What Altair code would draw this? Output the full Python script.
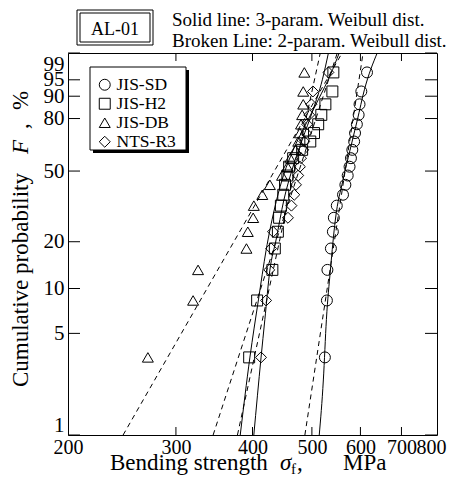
import altair as alt
import pandas as pd
import numpy as np

# ---------------- data ----------------
series_names = ["JIS-SD", "JIS-H2", "JIS-DB", "NTS-R3"]
shapes = ["circle", "square", "triangle-up", "diamond"]

# cumulative probability of each ranked specimen, %
F_pct = [3.43, 8.33, 13.24, 18.14, 23.04, 27.94, 32.84, 37.75, 42.65, 47.55,
         52.45, 57.35, 62.25, 67.16, 72.06, 76.96, 81.86, 86.76, 91.67, 96.57]

# bending strength, MPa
jis_sd = [525, 529, 530, 537, 541, 543, 549, 562, 567, 572,
          576, 579, 582, 586, 588, 592, 596, 598, 602, 615]
jis_h2 = [395, 407, 431, 435, 440, 442, 445, 449, 452, 456,
          459, 466, 482, 497, 504, 512, 518, 526, 540, 542]
jis_db = [270, 320, 326, 391, 393, 401, 402, 415, 427, 447,
          456, 461, 470, 475, 478, 480, 482, 484, 484, 486]
nts_r3 = [413, 421, 426, 429, 432, 457, 463, 468, 471, 475,
          478, 480, 484, 486, 489, 491, 495, 499, 502, 532]

# solid lines (3-param. Weibull): strength MPa / F %
sd_solid_s = [514, 522, 528, 536, 546, 562, 577, 593, 609, 639]
sd_solid_f = [1, 2.4, 6.2, 13.2, 27.1, 45.2, 62.1, 79.2, 92.2, 99]
h2_solid_s = [382, 396, 409, 421, 434, 447, 466, 488, 512, 536, 554]
h2_solid_f = [1, 3.4, 8.4, 17.7, 31.0, 45.2, 62.1, 76.6, 88.6, 96.1, 99]
r3_solid_s = [402, 413, 419, 427, 437, 450, 464, 482, 502, 520, 532]
r3_solid_f = [1, 3.4, 6.2, 13.2, 20.5, 35.3, 50.6, 68.0, 84.2, 95.0, 99]

# broken lines (2-param. Weibull): end points
sd_dash_s = [487, 606]
h2_dash_s = [345, 550]
db_dash_s = [246, 560]
r3_dash_s = [378, 516]
dash_f = [1, 99]

x_ticks = [200, 300, 400, 500, 600, 700, 800]
y_ticks = [1, 5, 10, 20, 50, 80, 90, 95, 99]

# ---------------- tables ----------------
def wb(f):
    f = np.asarray(f, dtype=float) / 100.0
    return np.log(-np.log(1.0 - f))

pts = pd.concat([
    pd.DataFrame({"s": v, "Y": wb(F_pct), "series": n})
    for n, v in zip(series_names, [jis_sd, jis_h2, jis_db, nts_r3])
], ignore_index=True)

solid = pd.concat([
    pd.DataFrame({"s": s, "Y": wb(f), "series": n, "o": range(len(s))})
    for n, s, f in [("JIS-SD", sd_solid_s, sd_solid_f),
                    ("JIS-H2", h2_solid_s, h2_solid_f),
                    ("NTS-R3", r3_solid_s, r3_solid_f)]
], ignore_index=True)

dashed = pd.concat([
    pd.DataFrame({"s": s, "Y": wb(dash_f), "series": n, "o": [0, 1]})
    for n, s in [("JIS-SD", sd_dash_s), ("JIS-H2", h2_dash_s),
                 ("JIS-DB", db_dash_s), ("NTS-R3", r3_dash_s)]
], ignore_index=True)

ytick_df = pd.DataFrame({"Y": wb(y_ticks)})
xtick_df = pd.DataFrame({"s": x_ticks[1:-1]})
one = pd.DataFrame({"a": [0]})

W, H = 369, 382
YMIN, YMAX = float(wb([1])[0]), float(wb([99])[0])
FONT = "Liberation Serif"

xscale = alt.Scale(type="log", domain=[200, 800], nice=False)
yscale = alt.Scale(domain=[YMIN, YMAX], nice=False, zero=False)

last_x = "datum.value == %d" % x_ticks[-1]
xaxis = alt.Axis(values=x_ticks, format="d", ticks=False, tickSize=0, domain=False,
                 grid=False, labelFont=FONT, labelFontSize=20, labelColor="black",
                 labelPadding=2, labelFlush=False, labelOverlap=False, title=None,
                 labelAlign={"condition": {"test": last_x, "value": "right"},
                             "value": "center"},
                 labelOffset={"condition": {"test": last_x, "value": 9}, "value": 0})
yaxis = alt.Axis(values=[float(v) for v in wb(y_ticks)],
                 labelExpr="format(round(100*(1-exp(-exp(datum.value)))), 'd')",
                 ticks=False, tickSize=0, domain=False, grid=False, labelFont=FONT,
                 labelFontSize=21, labelColor="black", labelPadding=4,
                 labelFlush=True, labelOverlap=False, title=None)

X = alt.X("s:Q", scale=xscale, axis=xaxis)
Y = alt.Y("Y:Q", scale=yscale, axis=yaxis)

# decorations: legend box with shadow, AL-01 box
shadow = alt.Chart(one).mark_rect(color="black").encode(
    x=alt.value(25), x2=alt.value(121), y=alt.value(17), y2=alt.value(100))
lbox = alt.Chart(one).mark_rect(fill="white", stroke="black", strokeWidth=1).encode(
    x=alt.value(22), x2=alt.value(118), y=alt.value(14), y2=alt.value(97))
box_out = alt.Chart(one).mark_rect(fill="white", stroke="black", strokeWidth=1).encode(
    x=alt.value(9), x2=alt.value(85), y=alt.value(-43), y2=alt.value(-8))
box_in = alt.Chart(one).mark_rect(fill="white", stroke="black", strokeWidth=1).encode(
    x=alt.value(12), x2=alt.value(82), y=alt.value(-40), y2=alt.value(-11))

dashed_lines = alt.Chart(dashed).mark_line(color="black", strokeWidth=1,
                                           strokeDash=[5, 4]).encode(
    x=X, y=Y, detail="series:N", order="o:Q")
solid_lines = alt.Chart(solid).mark_line(color="black", strokeWidth=1,
                                         interpolate="monotone").encode(
    x=X, y=Y, detail="series:N", order="o:Q")

points = alt.Chart(pts).mark_point(filled=False, color="black", size=120,
                                   strokeWidth=1, opacity=1).encode(
    x=X, y=Y,
    shape=alt.Shape("series:N",
                    scale=alt.Scale(domain=series_names, range=shapes),
                    legend=alt.Legend(orient="none", legendX=28, legendY=23,
                                      title=None, labelFont=FONT, labelFontSize=17.5,
                                      labelColor="black", symbolSize=120,
                                      symbolStrokeColor="black", symbolStrokeWidth=1,
                                      symbolFillColor="transparent", rowPadding=0,
                                      padding=0, labelOffset=3)))

tick_l = alt.Chart(ytick_df).mark_rule(color="black").encode(
    y=alt.Y("Y:Q", scale=yscale), x=alt.value(0), x2=alt.value(12))
tick_r = alt.Chart(ytick_df).mark_rule(color="black").encode(
    y=alt.Y("Y:Q", scale=yscale), x=alt.value(W - 12), x2=alt.value(W))
tick_b = alt.Chart(xtick_df).mark_rule(color="black").encode(
    x=alt.X("s:Q", scale=xscale), y=alt.value(H - 8), y2=alt.value(H))
tick_t = alt.Chart(xtick_df).mark_rule(color="black").encode(
    x=alt.X("s:Q", scale=xscale), y=alt.value(0), y2=alt.value(8))

def txt(t, x, y, size, align="left", baseline="alphabetic", angle=0, style="normal"):
    return alt.Chart(one).mark_text(text=t, font=FONT, fontSize=size, align=align,
                                    baseline=baseline, angle=angle, fontStyle=style,
                                    color="black").encode(x=alt.value(x), y=alt.value(y))

texts = [
    txt("AL-01", 47, -18, 18, align="center"),
    txt("Solid line: 3-param. Weibull dist.", 104, -27, 19),
    txt("Broken Line: 2-param. Weibull dist.", 104, -6, 19),
    # x title
    txt("Bending strength", 42, 417, 23),
    txt("σ", 212, 417, 23, style="italic"),
    txt("f", 223, 421, 15),
    txt(",", 229, 417, 23),
    txt("MPa", 275, 417, 23),
    # y title (rotated)
    txt("Cumulative probability", -40, 334, 23, angle=270),
    txt("F", -40, 101, 23, angle=270, style="italic"),
    txt(",", -40, 76, 23, angle=270),
    txt("%", -40, 57, 23, angle=270),
]

chart = alt.layer(
    shadow, lbox, box_out, box_in,
    dashed_lines, solid_lines, points,
    tick_l, tick_r, tick_b, tick_t,
    *texts
).properties(
    width=W, height=H,
    autosize=alt.AutoSizeParams(type="none"),
    padding={"left": 60, "top": 45, "right": 10, "bottom": 41},
    background="white"
).configure_view(stroke="black", strokeWidth=1)

chart.save("out.html", embed_options={"renderer": "svg", "actions": False})
